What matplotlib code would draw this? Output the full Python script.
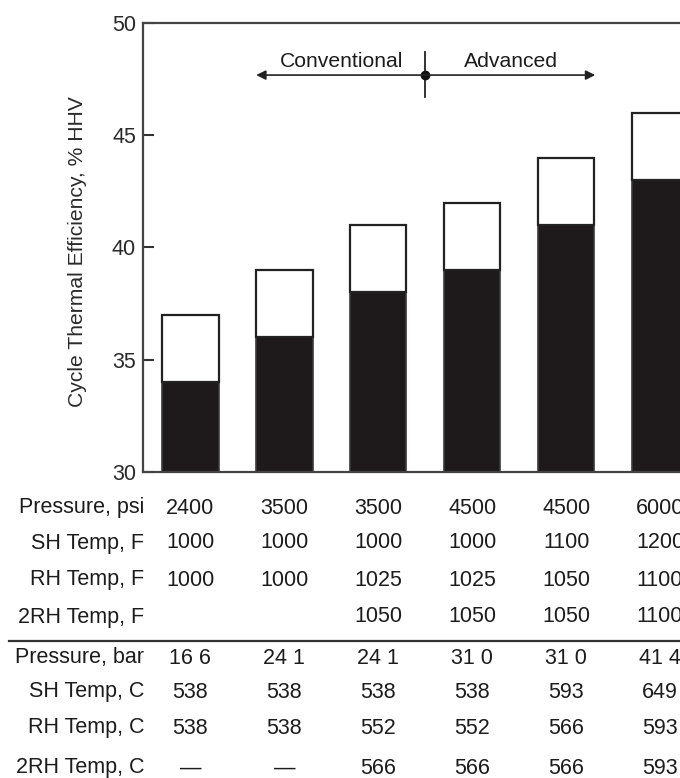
import matplotlib
matplotlib.use('Agg')
import matplotlib.pyplot as plt
import numpy as np
from matplotlib import transforms
from matplotlib.lines import Line2D

plt.rcParams['font.family'] = ['Liberation Sans', 'DejaVu Sans']

# ---- data ----
base_eff = [34, 36, 38, 39, 41, 43]     # black part top
total_eff = [37, 39, 41, 42, 44, 46]    # white part top
row_labels = ['Pressure, psi', 'SH Temp, F', 'RH Temp, F', '2RH Temp, F',
              'Pressure, bar', 'SH Temp, C', 'RH Temp, C', '2RH Temp, C']
pressure_psi = ['2400', '3500', '3500', '4500', '4500', '6000']
sh_temp_f = ['1000', '1000', '1000', '1000', '1100', '1200']
rh_temp_f = ['1000', '1000', '1025', '1025', '1050', '1100']
rh2_temp_f = ['', '', '1050', '1050', '1050', '1100']
pressure_bar = ['16 6', '24 1', '24 1', '31 0', '31 0', '41 4']
sh_temp_c = ['538', '538', '538', '538', '593', '649']
rh_temp_c = ['538', '538', '552', '552', '566', '593']
rh2_temp_c = ['\u2014', '\u2014', '566', '566', '566', '593']
table_rows = [pressure_psi, sh_temp_f, rh_temp_f, rh2_temp_f,
              pressure_bar, sh_temp_c, rh_temp_c, rh2_temp_c]
yticks = [30, 35, 40, 45, 50]

W, H = 680, 778
TXT = '#1c1c1c'
FS = 15.5
fig = plt.figure(figsize=(W / 100, H / 100), dpi=100)
ax = fig.add_axes([143 / W, 1 - 472 / H, (707 - 143) / W, (472 - 23) / H])

x = np.arange(len(base_eff))
base = np.array(base_eff)
total = np.array(total_eff)
ax.bar(x, base - 30, bottom=30, width=0.6, color='#1e1a1b', edgecolor='#3a3a3a', linewidth=1.2)
ax.bar(x, total - base, bottom=base, width=0.6, color='white', edgecolor='#222222', linewidth=1.6)

ax.set_xlim(-0.505, 5.5)
ax.set_ylim(30, 50)
ax.set_yticks(yticks)
ax.set_xticks([])
ax.tick_params(axis='y', direction='in', length=8, width=1.5, color='#333333',
               labelsize=FS, pad=5, labelcolor='#2a2a2a')
for s in ['left', 'top', 'bottom']:
    ax.spines[s].set_linewidth(1.6)
    ax.spines[s].set_color('#444444')
ax.spines['right'].set_visible(False)

fig.text(78 / W, 1 - 252 / H, 'Cycle Thermal Efficiency, % HHV', rotation=90,
         ha='center', va='center', fontsize=15.2, color='#2a2a2a')

# Conventional / Advanced annotation
div = (2 + 3) / 2
ya = 47.68
ax.annotate('', xy=(0.7, ya), xytext=(div, ya),
            arrowprops=dict(arrowstyle='-|>', color='#222222', lw=1.2,
                            mutation_scale=14, shrinkA=0, shrinkB=0))
ax.annotate('', xy=(4.31, ya), xytext=(div, ya),
            arrowprops=dict(arrowstyle='-|>', color='#222222', lw=1.2,
                            mutation_scale=14, shrinkA=0, shrinkB=0))
ax.plot([div, div], [46.7, 48.7], color='#222222', lw=1.3)
ax.plot([div], [ya], 'o', ms=6, color='#111111')
ax.text(1.612, 48.3, 'Conventional', ha='center', va='center', fontsize=15.2, color=TXT)
ax.text(3.41, 48.3, 'Advanced', ha='center', va='center', fontsize=15.2, color=TXT)

# table below
row_y_px = [508, 543, 580, 617, 658, 692, 728, 768]
trans = transforms.blended_transform_factory(ax.transData, fig.transFigure)
for lab, vals, py in zip(row_labels, table_rows, row_y_px):
    fy = 1 - py / H
    fig.text(144 / W, fy, lab, ha='right', va='center', fontsize=FS, color=TXT)
    for xi, v in zip(x, vals):
        ax.text(xi, fy, v, transform=trans, ha='center', va='center',
                fontsize=FS, color=TXT, clip_on=False)

fig.add_artist(Line2D([9 / W, 1.0], [1 - 641 / H] * 2, color='#333333', lw=1.6))

fig.savefig('out.png', dpi=100)
